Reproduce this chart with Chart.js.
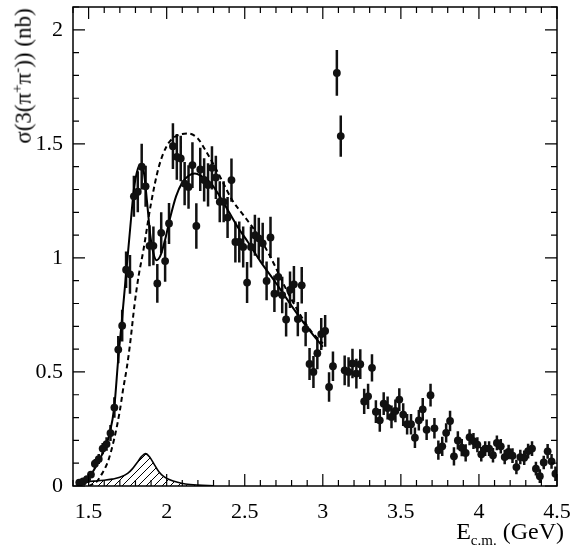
<!DOCTYPE html>
<html>
<head>
<meta charset="utf-8">
<script src="https://cdn.jsdelivr.net/npm/chart.js@4.4.1/dist/chart.umd.min.js"></script>
<style>
  html, body { margin: 0; padding: 0; background: #fff; }
  #wrap { position: relative; width: 587px; height: 545px; }
  #xtitle, #ytitle {
    position: absolute; font-family: "Liberation Serif", "DejaVu Serif", serif;
    color: #000; white-space: nowrap; line-height: 1;
  }
  #xtitle { right: 23px; top: 519px; font-size: 24px; }
  #ytitle { left: 22px; top: 76px; font-size: 23px; transform: translate(-50%, -50%) rotate(-90deg); }
  sub, sup { font-size: 15px; }
</style>
</head>
<body>
<div id="wrap">
  <canvas id="xsec" width="587" height="545"></canvas>
  <div id="ytitle">σ(3(π<sup>+</sup>π<sup>-</sup>)) (nb)</div>
  <div id="xtitle">E<sub>c.m.</sub> (GeV)</div>
</div>
<script>
(function(){
  /* ── Data: measured points ── */
  const energy = [1.44,1.465,1.49,1.515,1.54,1.565,1.59,1.615,1.64,1.665,1.69,1.715,1.74,1.765,1.79,1.815,1.84,1.865,1.89,1.915,1.94,1.965,1.99,2.015,2.04,2.065,2.09,2.115,2.14,2.165,2.19,2.215,2.24,2.265,2.29,2.315,2.34,2.365,2.39,2.415,2.44,2.465,2.49,2.515,2.54,2.565,2.59,2.615,2.64,2.665,2.69,2.715,2.74,2.765,2.79,2.815,2.84,2.865,2.89,2.915,2.94,2.965,2.99,3.015,3.04,3.065,3.09,3.115,3.14,3.165,3.19,3.215,3.24,3.265,3.29,3.315,3.34,3.365,3.39,3.415,3.44,3.465,3.49,3.515,3.54,3.565,3.59,3.615,3.64,3.665,3.69,3.715,3.74,3.765,3.79,3.815,3.84,3.865,3.89,3.915,3.94,3.965,3.99,4.015,4.04,4.065,4.09,4.115,4.14,4.165,4.19,4.215,4.24,4.265,4.29,4.315,4.34,4.365,4.39,4.415,4.44,4.465,4.49];
  const sigma = [0.015,0.02,0.03,0.05,0.098,0.118,0.164,0.184,0.232,0.344,0.598,0.703,0.948,0.928,1.27,1.29,1.40,1.314,1.053,1.053,0.888,1.11,0.986,1.151,1.49,1.443,1.436,1.326,1.311,1.407,1.14,1.388,1.342,1.32,1.395,1.353,1.246,1.246,1.177,1.341,1.07,1.07,1.048,0.892,1.048,1.099,1.086,1.064,0.899,1.09,0.843,0.917,0.837,0.73,0.86,0.884,0.732,0.88,0.688,0.535,0.5,0.582,0.666,0.68,0.434,0.525,1.811,1.534,0.507,0.5,0.537,0.493,0.534,0.371,0.393,0.518,0.326,0.288,0.361,0.342,0.303,0.329,0.379,0.313,0.271,0.271,0.212,0.288,0.336,0.247,0.398,0.253,0.157,0.174,0.233,0.285,0.13,0.2,0.168,0.145,0.214,0.197,0.181,0.139,0.164,0.164,0.135,0.189,0.174,0.127,0.149,0.133,0.083,0.127,0.124,0.153,0.164,0.076,0.043,0.103,0.152,0.108,0.054];
  const sigmaErr = [0.008,0.01,0.012,0.015,0.02,0.022,0.025,0.03,0.035,0.045,0.06,0.07,0.08,0.085,0.09,0.09,0.1,0.09,0.09,0.085,0.085,0.09,0.09,0.09,0.1,0.1,0.1,0.095,0.095,0.1,0.1,0.095,0.095,0.095,0.095,0.095,0.09,0.09,0.09,0.095,0.09,0.09,0.09,0.09,0.09,0.09,0.09,0.09,0.085,0.09,0.08,0.085,0.08,0.075,0.08,0.08,0.075,0.08,0.075,0.07,0.07,0.07,0.07,0.07,0.065,0.065,0.1,0.09,0.065,0.065,0.065,0.065,0.065,0.055,0.055,0.06,0.05,0.05,0.05,0.05,0.05,0.05,0.05,0.05,0.045,0.045,0.045,0.045,0.05,0.045,0.05,0.045,0.042,0.042,0.042,0.045,0.04,0.04,0.038,0.038,0.035,0.035,0.033,0.032,0.032,0.032,0.032,0.032,0.032,0.032,0.032,0.032,0.032,0.032,0.032,0.032,0.032,0.03,0.03,0.03,0.032,0.032,0.032];

  /* ── Data: curves ── */
  const fitX = [1.43,1.5,1.55,1.6,1.635,1.665,1.69,1.715,1.74,1.765,1.79,1.815,1.835,1.855,1.875,1.895,1.915,1.935,1.96,1.99,2.02,2.06,2.1,2.14,2.18,2.22,2.28,2.34,2.4,2.46,2.52,2.6,2.7,2.8,2.9,3.0];
  const fitY = [0.0,0.035,0.09,0.16,0.23,0.35,0.56,0.74,0.93,1.12,1.30,1.39,1.405,1.37,1.24,1.10,1.02,0.99,1.01,1.08,1.17,1.27,1.33,1.36,1.37,1.36,1.33,1.27,1.20,1.13,1.07,0.985,0.89,0.79,0.695,0.61];
  const dashX = [1.5,1.55,1.58,1.625,1.665,1.7,1.72,1.745,1.765,1.795,1.82,1.85,1.9,1.95,2.0,2.05,2.1,2.14,2.2,2.25,2.3,2.35,2.42,2.5,2.58,2.66,2.79,2.92,3.0];
  const dashY = [0.0,0.018,0.047,0.11,0.21,0.33,0.42,0.52,0.62,0.8,0.92,1.03,1.24,1.40,1.49,1.53,1.543,1.545,1.523,1.47,1.41,1.345,1.253,1.18,1.105,1.01,0.83,0.683,0.625];
  const bumpX = [1.46,1.5,1.55,1.6,1.65,1.7,1.75,1.78,1.81,1.84,1.865,1.89,1.92,1.95,1.98,2.02,2.07,2.12,2.2,2.3];
  const bumpY = [0.012,0.02,0.022,0.025,0.03,0.038,0.055,0.075,0.102,0.13,0.142,0.128,0.095,0.062,0.042,0.027,0.016,0.009,0.004,0.001];

  const pts = (xs, ys) => xs.map((x, i) => ({ x, y: ys[i] }));

  /* ── Hatch pattern ── */
  const pc = document.createElement('canvas');
  pc.width = 8; pc.height = 8;
  const p = pc.getContext('2d');
  p.strokeStyle = '#000'; p.lineWidth = 1;
  p.beginPath();
  p.moveTo(0, 8); p.lineTo(8, 0);
  p.moveTo(-2, 2); p.lineTo(2, -2);
  p.moveTo(6, 10); p.lineTo(10, 6);
  p.stroke();
  const hatch = document.getElementById('xsec').getContext('2d').createPattern(pc, 'repeat');

  const FONT = { family: '"Liberation Serif", "DejaVu Serif", serif', size: 22 };
  const isMajor = v => Math.abs(v * 2 - Math.round(v * 2)) < 1e-6;

  /* ── Error bars ── */
  const errorBars = {
    id: 'errorBars',
    beforeDatasetsDraw(chart) {
      const { ctx, chartArea: a, scales: { x, y } } = chart;
      ctx.save();
      ctx.beginPath(); ctx.rect(a.left, a.top, a.right - a.left, a.bottom - a.top); ctx.clip();
      ctx.strokeStyle = '#111'; ctx.lineWidth = 2.5;
      ctx.beginPath();
      energy.forEach((e, i) => {
        const px = x.getPixelForValue(e);
        ctx.moveTo(px, y.getPixelForValue(sigma[i] - sigmaErr[i]));
        ctx.lineTo(px, y.getPixelForValue(sigma[i] + sigmaErr[i]));
      });
      ctx.stroke();
      ctx.restore();
    }
  };

  /* ── Frame with inward ticks on all sides ── */
  const frame = {
    id: 'frame',
    afterDraw(chart) {
      const { ctx, chartArea: a, scales: { x, y } } = chart;
      ctx.save();
      ctx.strokeStyle = '#000'; ctx.lineWidth = 1.5;
      ctx.strokeRect(a.left, a.top, a.right - a.left, a.bottom - a.top);
      ctx.lineWidth = 1.2;
      ctx.beginPath();
      x.ticks.forEach(t => {
        const px = x.getPixelForValue(t.value), len = isMajor(t.value) ? 12 : 6;
        ctx.moveTo(px, a.bottom); ctx.lineTo(px, a.bottom - len);
        ctx.moveTo(px, a.top); ctx.lineTo(px, a.top + len);
      });
      y.ticks.forEach(t => {
        const py = y.getPixelForValue(t.value), len = isMajor(t.value) ? 12 : 6;
        ctx.moveTo(a.left, py); ctx.lineTo(a.left + len, py);
        ctx.moveTo(a.right, py); ctx.lineTo(a.right - len, py);
      });
      ctx.stroke();
      ctx.restore();
    }
  };

  const label = v => isMajor(v) ? String(Math.round(v * 10) / 10) : '';

  new Chart(document.getElementById('xsec'), {
    type: 'scatter',
    data: {
      datasets: [
        {
          label: 'data',
          data: pts(energy, sigma),
          pointRadius: 3.9, pointHoverRadius: 3.9,
          backgroundColor: '#111', borderWidth: 0,
        },
        {
          label: 'fit',
          data: pts(fitX, fitY),
          showLine: true, pointRadius: 0, borderColor: '#000', borderWidth: 2,
          cubicInterpolationMode: 'monotone', fill: false,
        },
        {
          label: 'dashed',
          data: pts(dashX, dashY),
          showLine: true, pointRadius: 0, borderColor: '#000', borderWidth: 2,
          borderDash: [5, 3.5], cubicInterpolationMode: 'monotone', fill: false,
        },
        {
          label: 'bump',
          data: pts(bumpX, bumpY),
          showLine: true, pointRadius: 0, borderColor: '#000', borderWidth: 1.6,
          cubicInterpolationMode: 'monotone', fill: 'origin', backgroundColor: hatch,
        },
      ],
    },
    options: {
      responsive: false,
      animation: false,
      events: [],
      layout: { padding: { top: 7, right: 30, left: 0, bottom: 0 } },
      plugins: { legend: { display: false }, tooltip: { enabled: false } },
      scales: {
        x: {
          type: 'linear', min: 1.4, max: 4.5,
          grid: { display: false, drawTicks: false },
          border: { display: false },
          ticks: { stepSize: 0.1, autoSkip: false, maxRotation: 0, padding: 13, color: '#000', font: FONT, callback: label },
          afterFit: s => { s.height = 59; s.paddingLeft = 0; s.paddingRight = 0; },
        },
        y: {
          min: 0, max: 2.1,
          grid: { display: false, drawTicks: false },
          border: { display: false },
          ticks: { stepSize: 0.1, autoSkip: false, padding: 10, color: '#000', font: FONT, callback: label },
          afterFit: s => { s.width = 73; s.paddingTop = 0; s.paddingBottom = 0; },
        },
      },
    },
    plugins: [errorBars, frame],
  });
})();
</script>
</body>
</html>
